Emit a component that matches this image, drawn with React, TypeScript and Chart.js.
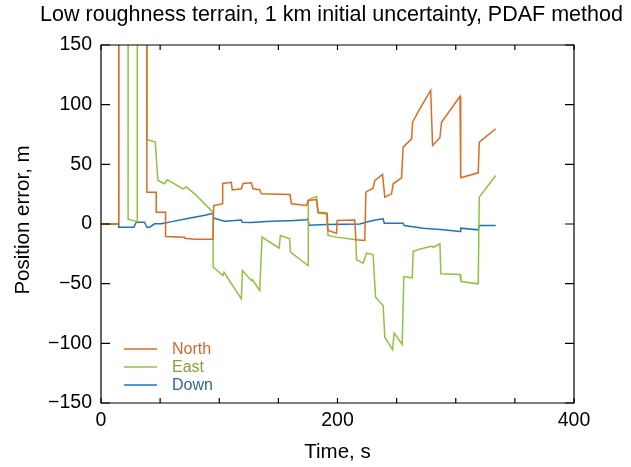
import React, { useEffect, useRef } from 'react';
import { Chart, registerables } from 'chart.js';

Chart.register(...registerables);

const FONT = '"Liberation Sans", Arial, Helvetica, sans-serif';

const titleText = 'Low roughness terrain, 1 km initial uncertainty, PDAF method';
const xAxisLabel = 'Time, s';
const yAxisLabel = 'Position error, m';
const xTickLabels = [0, 200, 400];
const seriesNames = ['North', 'East', 'Down'];

const northT = [0, 14.8, 15, 38.8, 38.8, 46.7, 46.7, 54.6, 54.6, 70.7, 70.9, 79.2, 94.7, 95.3, 102.9, 102.9, 110.2, 111, 118.7, 120.1, 127.2, 128.5, 134.2, 135.6, 159.8, 161.1, 173.8, 175.1, 182.2, 183.6, 191.2, 192, 199.2, 199.7, 214.6, 215.5, 223.1, 224, 230.1, 231.6, 238.1, 240, 245.7, 247.1, 254.2, 255.5, 262.7, 263.5, 269.7, 278.8, 280.4, 286.6, 288, 303.6, 304.2, 319, 319.9, 333.8];
const northV = [0, 0, 400, 400, 26.7, 26.7, 9.9, 9.9, -10.5, -11, -12, -12.8, -12.8, 15.5, 17, 34, 35, 28.5, 29.5, 34, 34.5, 29.5, 28.7, 25.3, 24.7, 17, 15.5, 19.7, 20.5, 9.9, 9, -5.4, -7.7, 2.9, 3.4, -13.2, -13.8, 26.7, 30, 36.5, 41.5, 22.5, 25.3, 33.7, 38.7, 64.4, 71.4, 85.3, 96.6, 111.9, 65.8, 72.3, 85.3, 106.9, 38.7, 42.9, 68.6, 79.8];

const eastT = [0, 14.8, 15, 22.9, 22.9, 30.7, 30.7, 38.8, 38.8, 45.9, 48.1, 53.8, 56.1, 62.2, 69.3, 72.1, 79.2, 94.7, 94.9, 103.1, 104, 118.7, 119.6, 127.2, 128, 134.2, 136.2, 150.6, 151.7, 159.6, 160.2, 175.1, 175.3, 178, 182.2, 183.6, 190.7, 192, 199.2, 215.5, 216.1, 221.7, 224.6, 230.1, 232.2, 238.6, 240, 246.6, 247.9, 254.7, 256.1, 263.2, 264, 270, 279.6, 281, 286.6, 287.4, 303.6, 304.4, 319, 319.9, 333.8];
const eastV = [0, 0, 400, 400, 4, 2, 400, 400, 70.8, 68.6, 36.5, 33.7, 37, 33.7, 29.5, 31, 25.3, 9.9, -36.2, -43.2, -40.5, -62.7, -39, -47.5, -46.5, -55.7, -11, -20.3, -9.6, -12.4, -23.6, -34.8, 19.7, 21.5, 23, 9, 8.5, -9.6, -11, -13.2, -30, -32.9, -24.5, -25.6, -61.4, -68.3, -94.9, -105.4, -91.5, -101, -44, -45.1, -22.8, -21, -18.6, -19.5, -16.6, -41.7, -42.3, -48.2, -50.1, 22.5, 40.7];

const downT = [0, 14.8, 15, 27.8, 29.8, 36.8, 38.8, 41.1, 45.3, 51, 60, 70, 80, 88, 94.7, 95.3, 104.6, 118.7, 119.6, 127.2, 140, 150, 160, 173.8, 175.1, 175.9, 190.7, 218.9, 227.3, 234.4, 238.6, 239.5, 255.5, 256.4, 272.5, 289.4, 303.6, 304.2, 319, 319.9, 333.8];
const downV = [0, 0, -2.7, -2.7, 1.5, 1.5, -2.7, -2.7, 0.2, 0.2, 2, 4, 5.8, 7.3, 9, 4.9, 2.3, 3.3, 1.5, 1.2, 2, 2.5, 2.8, 3.5, 4.4, -1, -0.5, 0, 2.3, 3.8, 4.4, 0.7, 0.7, -1.3, -3.5, -4.8, -6.3, -3.5, -4.9, -1.3, -1.3];

const lineColors = ['#DD6B22', '#8DC43F', '#1F73BE'];
const legendTextColors = ['#D2692A', '#8C9E3B', '#2F6699'];

const toPoints = (ts: number[], vs: number[]) => ts.map((t, i) => ({ x: t, y: vs[i] }));

const framePlugin = {
  id: 'frameTicks',
  afterDatasetsDraw(chart: any) {
    const { ctx, chartArea, scales } = chart;
    const { left, right, top, bottom } = chartArea;
    const xs = scales.x;
    const ys = scales.y;
    ctx.save();
    ctx.strokeStyle = '#000';
    ctx.lineWidth = 1.2;
    ctx.beginPath();
    ctx.rect(left, top, right - left, bottom - top);
    ctx.stroke();
    ctx.beginPath();
    xs.ticks.forEach((tk: any) => {
      const px = xs.getPixelForValue(tk.value);
      ctx.moveTo(px, bottom);
      ctx.lineTo(px, bottom - 5);
      ctx.moveTo(px, top);
      ctx.lineTo(px, top + 5);
    });
    ys.ticks.forEach((tk: any) => {
      const py = ys.getPixelForValue(tk.value);
      ctx.moveTo(left, py);
      ctx.lineTo(left + 9, py);
      ctx.moveTo(right, py);
      ctx.lineTo(right - 9, py);
    });
    ctx.stroke();
    ctx.restore();
  },
  afterDraw(chart: any) {
    const { ctx, chartArea } = chart;
    const { left, right, top, bottom } = chartArea;
    const cx = (left + right) / 2;
    ctx.save();
    ctx.fillStyle = '#000';
    ctx.textAlign = 'center';
    ctx.textBaseline = 'alphabetic';
    ctx.font = `21.5px ${FONT}`;
    ctx.fillText(titleText, cx - 6, 21);
    ctx.font = `20.5px ${FONT}`;
    ctx.fillText(xAxisLabel, cx, 458);
    ctx.save();
    ctx.translate(29, (top + bottom) / 2 - 4);
    ctx.rotate(-Math.PI / 2);
    ctx.fillText(yAxisLabel, 0, 0);
    ctx.restore();

    // legend
    const rows = [349, 367, 385];
    chart.data.datasets.forEach((ds: any, i: number) => {
      const y = rows[i];
      ctx.strokeStyle = ds.borderColor;
      ctx.lineWidth = 1.5;
      ctx.beginPath();
      ctx.moveTo(124, y);
      ctx.lineTo(157, y);
      ctx.stroke();
      ctx.fillStyle = legendTextColors[i];
      ctx.font = `16px ${FONT}`;
      ctx.textAlign = 'left';
      ctx.textBaseline = 'middle';
      ctx.fillText(ds.label, 172, y + 1);
    });
    ctx.restore();
  },
};

export default function App() {
  const ref = useRef<HTMLCanvasElement | null>(null);
  useEffect(() => {
    if (!ref.current) return;
    const chart = new Chart(ref.current, {
      type: 'line',
      data: {
        datasets: [
          { label: seriesNames[0], data: toPoints(northT, northV), borderColor: lineColors[0] },
          { label: seriesNames[1], data: toPoints(eastT, eastV), borderColor: lineColors[1] },
          { label: seriesNames[2], data: toPoints(downT, downV), borderColor: lineColors[2] },
        ].map((d) => ({ ...d, borderWidth: 1.5, pointRadius: 0, tension: 0, fill: false, clip: 0 })),
      },
      options: {
        animation: false,
        responsive: false,
        devicePixelRatio: 1,
        layout: { padding: { left: 0, top: 45, right: 57, bottom: 0 } },
        plugins: { legend: { display: false }, title: { display: false }, tooltip: { enabled: false } },
        scales: {
          x: {
            type: 'linear',
            min: 0,
            max: 400,
            grid: { display: false, drawTicks: false },
            border: { display: false },
            ticks: {
              stepSize: 50,
              autoSkip: false,
              maxRotation: 0,
              padding: 6,
              color: '#000',
              font: { family: FONT, size: 19.5 },
              callback: (v: any) => (xTickLabels.includes(Number(v)) ? String(v) : ''),
            },
            afterFit: (s: any) => { s.height = 64; },
          },
          y: {
            type: 'linear',
            min: -150,
            max: 150,
            grid: { display: false, drawTicks: false },
            border: { display: false },
            ticks: {
              stepSize: 50,
              padding: 9,
              color: '#000',
              font: { family: FONT, size: 19.5 },
              callback: (v: any) => (Number(v) < 0 ? '\u2212' + Math.abs(Number(v)) : String(v)),
            },
            afterFit: (s: any) => { s.width = 101; },
          },
        },
      },
      plugins: [framePlugin],
    } as any);
    return () => chart.destroy();
  }, []);
  return (
    <div style={{ position: 'absolute', left: 0, top: 0, width: 631, height: 467, background: '#fff' }}>
      <canvas ref={ref} width={631} height={467} style={{ width: 631, height: 467 }} />
    </div>
  );
}
